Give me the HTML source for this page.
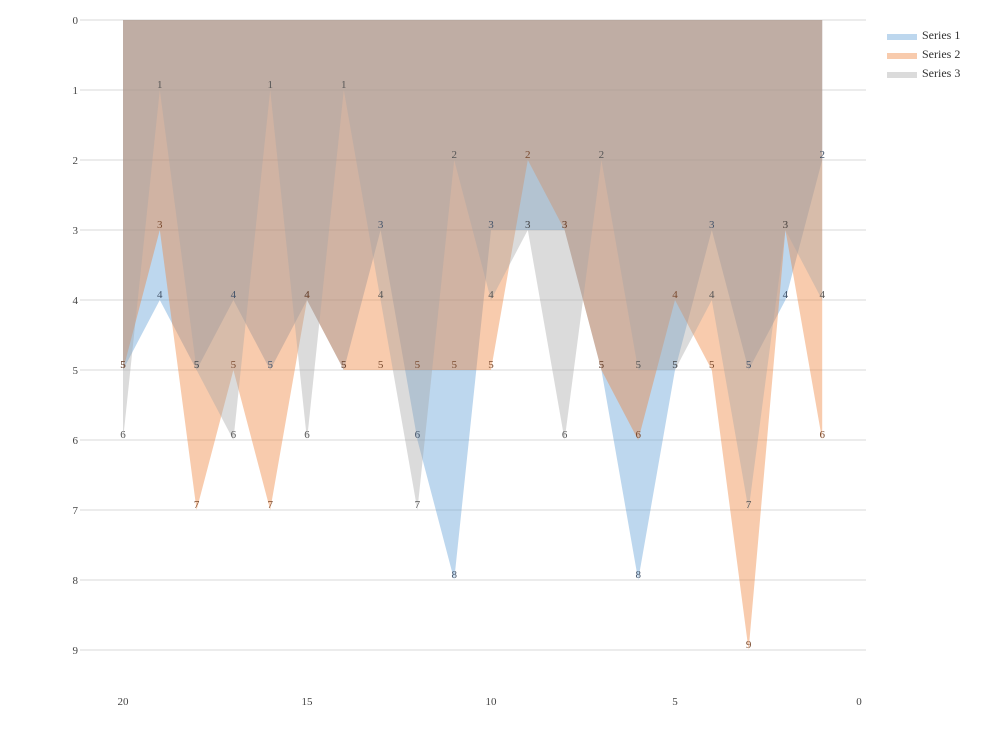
<!DOCTYPE html>
<html><head><meta charset="utf-8"><style>
body{margin:0;background:#fff}
svg text{font-family:"Liberation Serif",serif;font-size:11px}
</style></head><body>
<svg id="chart" width="992" height="744" xmlns="http://www.w3.org/2000/svg">
<g id="grid"></g>
<g id="yaxis"></g>
<g id="xaxis"></g>
<g id="areas"></g>
<g id="labels"></g>
<g id="legend"></g>
</svg>
<script>
const categories=[20,19,18,17,16,15,14,13,12,11,10,9,8,7,6,5,4,3,2,1];
const series1=[5,4,5,4,5,4,5,3,6,8,3,3,3,5,8,5,3,5,4,2];
const series2=[5,3,7,5,7,4,5,5,5,5,5,2,3,5,6,4,5,9,3,6];
const series3=[6,1,5,6,1,6,1,4,7,2,4,3,6,2,5,5,4,7,3,4];
const seriesNames=["Series 1","Series 2","Series 3"];
const yTicks=[0,1,2,3,4,5,6,7,8,9];
const xTicks=[20,15,10,5,0];
const NS="http://www.w3.org/2000/svg";
const X=v=>859-(v/20)*736;
const Y=v=>20+v*70;
const fills=["rgba(91,155,213,0.4)","rgba(237,125,49,0.4)","rgba(165,165,165,0.4)"];
const lab=["#44546a","#7a4a2e","#555"];
const swatch=["#bdd7ee","#f8cbad","#dbdbdb"];
function mk(t,a,p){const e=document.createElementNS(NS,t);for(const k in a)e.setAttribute(k,a[k]);p.appendChild(e);return e;}
const grid=document.getElementById('grid'),ya=document.getElementById('yaxis'),xa=document.getElementById('xaxis');
yTicks.forEach(t=>{
 const l=mk('line',{x1:80,x2:866,y1:Y(t),y2:Y(t),stroke:'#d9d9d9','stroke-width':1},grid);
 
 
 const tx=mk('text',{x:78,y:Y(t)+4,'text-anchor':'end',fill:'#444'},ya);tx.textContent=t;
 
 
});
xTicks.forEach(t=>{
 const tx=mk('text',{x:X(t),y:705,'text-anchor':'middle',fill:'#444'},xa);tx.textContent=t;
 
 
});
const all=[series1,series2,series3];
const areas=document.getElementById('areas'),labels=document.getElementById('labels');
all.forEach((s,i)=>{
 let pts=[[X(categories[0]),Y(0)]];
 s.forEach((v,j)=>pts.push([X(categories[j]),Y(v)]));
 pts.push([X(categories[categories.length-1]),Y(0)]);
 const p=mk('polygon',{points:pts.map(q=>q.join(',')).join(' '),fill:fills[i]},areas);
 
 
});
all.forEach((s,i)=>{
 s.forEach((v,j)=>{
  const t=mk('text',{x:X(categories[j]),y:Y(v)-2,'text-anchor':'middle',fill:lab[i]},labels);t.textContent=v;
  
  
 });
});
const lg=document.getElementById('legend');
seriesNames.forEach((n,i)=>{
 const g=mk('g',{},lg);
 
 
 mk('rect',{x:887,y:34+i*19,width:30,height:6,fill:swatch[i]},g);
 const t=mk('text',{x:922,y:39+i*19,fill:'#333',style:'font-size:12px'},g);t.textContent=n;
});
</script>
</body></html>
